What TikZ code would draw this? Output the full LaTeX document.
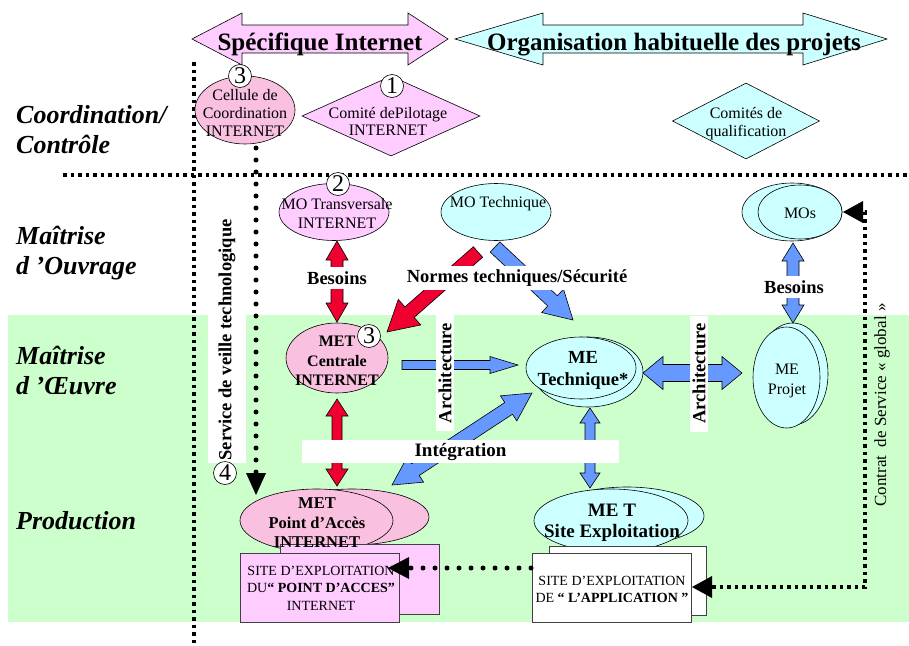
\documentclass[tikz,border=0pt]{standalone}
\usepackage{fontspec}
\setmainfont{Liberation Serif}
\usetikzlibrary{calc,shapes.geometric,arrows.meta}

\definecolor{mauve}{HTML}{FFCCFF}
\definecolor{rose}{HTML}{F9C0E0}
\definecolor{ciel}{HTML}{CCFFFF}
\definecolor{vert}{HTML}{CCFFCC}
\definecolor{rouge}{HTML}{F00030}
\definecolor{bleu}{HTML}{6699FF}

% block arrow from #1 to #2: shaft half-width #3, head half-width #4, head length #5, fill #6
\newcommand\fatarrow[6]{%
  \coordinate (fah) at ($(#2)!#5!(#1)$);
  \filldraw[fill=#6, draw=black, line width=0.6pt]
    ($(#1)!#3!90:(#2)$) -- ($(fah)!#3!90:(#2)$) -- ($(fah)!#4!90:(#2)$) -- (#2)
    -- ($(fah)!#4!-90:(#2)$) -- ($(fah)!#3!-90:(#2)$) -- ($(#1)!#3!-90:(#2)$) -- cycle;}
% block arrow with a head at both ends
\newcommand\fatdarrow[6]{%
  \coordinate (fah) at ($(#2)!#5!(#1)$);
  \coordinate (fat) at ($(#1)!#5!(#2)$);
  \filldraw[fill=#6, draw=black, line width=0.6pt]
    (#1) -- ($(fat)!#4!90:(#2)$) -- ($(fat)!#3!90:(#2)$) -- ($(fah)!#3!90:(#2)$)
    -- ($(fah)!#4!90:(#2)$) -- (#2) -- ($(fah)!#4!-90:(#2)$) -- ($(fah)!#3!-90:(#2)$)
    -- ($(fat)!#3!-90:(#2)$) -- ($(fat)!#4!-90:(#2)$) -- cycle;}

\begin{document}
\begin{tikzpicture}[x=1pt,y=-1pt,
  txt/.style={font=\fontsize{16}{18}\selectfont, align=center, inner sep=0pt},
  btxt/.style={font=\bfseries\fontsize{18.5}{21}\selectfont, align=center, inner sep=0pt},
  side/.style={font=\bfseries\itshape\fontsize{26}{30}\selectfont, inner sep=0pt, anchor=base west},
  title/.style={font=\bfseries\fontsize{25}{25}\selectfont, inner sep=0pt, anchor=base},
  blob/.style={ellipse, draw, line width=0.6pt, inner sep=0pt},
  losange/.style={diamond, draw, line width=0.6pt, inner sep=0pt},
  sitebox/.style={draw=black!75, line width=0.8pt},
  num/.style={circle, draw, fill=white, line width=0.6pt, inner sep=0pt, minimum size=23pt, font=\fontsize{24}{24}\selectfont},
  sqdots/.style={line width=3.5pt, dash pattern=on 3.5pt off 4pt},
  rddots/.style={line width=5pt, line cap=round, dash pattern=on 0pt off 12pt},
  tag/.style={fill=white, inner xsep=2pt, inner ysep=4pt},
  vtag/.style={btxt, fill=white, rotate=90, inner xsep=8pt, inner ysep=2.5pt}
]
\useasboundingbox (0,0) rectangle (909,645);

% bands
\fill[vert] (8,315) rectangle (909,622);
\draw[sqdots] (63,175) -- (909,175);
\draw[sqdots] (194,62) -- (194,645);

% row labels
\node[side] (l1) at (16,123) {Coordination/};
\node[side] (l2) at (16,153) {Contrôle};
\node[side] (l3) at (16,244) {Maîtrise};
\node[side] (l4) at (16,274) {d ’Ouvrage};
\node[side] (l5) at (16,364) {Maîtrise};
\node[side] (l6) at (16,394) {d ’Œuvre};
\node[side] (l7) at (16,529) {Production};

% column headers
\filldraw[fill=mauve, line width=0.6pt] (192,39) -- (242,13) -- (242,25) -- (408,25) -- (408,13)
  -- (448,39) -- (408,65) -- (408,53) -- (242,53) -- (242,65) -- cycle;
\node[title] (specif) at (320,50) {Spécifique Internet};
\filldraw[fill=ciel, line width=0.6pt] (455,39) -- (543,13) -- (543,25) -- (803,25) -- (803,13)
  -- (887,39) -- (803,65) -- (803,53) -- (543,53) -- (543,65) -- cycle;
\node[title] (orga) at (674,50) {Organisation habituelle des projets};

% coordination / control
\node[blob, fill=rose, minimum width=100pt, minimum height=68pt] (cell) at (245,110) {};
\node[txt] (cellT) at (245,113) {Cellule de\\Coordination\\INTERNET};
\node[losange, fill=mauve, minimum width=178pt, minimum height=80pt] (copil) at (391,116) {};
\node[txt, font=\fontsize{16}{17}\selectfont] (copilT) at (388,121) {Comité dePilotage\\INTERNET};
\node[losange, fill=ciel, minimum width=147pt, minimum height=76pt] (qualif) at (746,121) {};
\node[txt] (qualifT) at (746,124) {Comités de\\qualification};

% maitrise d'ouvrage
\node[blob, fill=mauve, minimum width=110pt, minimum height=57pt] (moTr) at (334,212) {};
\node[txt, font=\fontsize{16}{19}\selectfont] (moTrT) at (337,213) {MO Transversale\\INTERNET};
\node[blob, fill=ciel, minimum width=110pt, minimum height=57pt] (moTe) at (496,212) {};
\node[txt] (moTeT) at (498,204) {MO Technique};
\node[blob, fill=ciel, minimum width=100pt, minimum height=58pt] (mosB) at (792,212) {};
\node[blob, fill=ciel, minimum width=84pt, minimum height=54pt] (mos) at (800,212) {};
\node[txt] (mosT) at (800,213) {MOs};

% maitrise d'oeuvre
\node[blob, fill=rose, minimum width=102pt, minimum height=70pt] (metC) at (337,358) {};
\node[txt, font=\bfseries\fontsize{16}{19.5}\selectfont] (metCT) at (337,361) {MET\\Centrale\\INTERNET};
\node[blob, fill=ciel, minimum width=110pt, minimum height=70pt] (meTB) at (588,372) {};
\node[blob, fill=ciel, minimum width=110pt, minimum height=62pt] (meT) at (581,368) {};
\node[btxt, font=\bfseries\fontsize{18.5}{22}\selectfont] (meTT) at (583,370) {ME\\Technique*};
\node[blob, fill=ciel, minimum width=71pt, minimum height=102pt] (mePB) at (792.5,374) {};
\node[blob, fill=ciel, minimum width=67pt, minimum height=101pt] (meP) at (786.5,377.5) {};
\node[txt, font=\fontsize{16}{20}\selectfont] (mePT) at (787,381) {ME\\Projet};

% production
\node[blob, fill=rose, minimum width=154pt, minimum height=56pt] (paB) at (352,517) {};
\node[blob, fill=rose, minimum width=153pt, minimum height=63pt] (pa) at (316.5,520.5) {};
\node[sitebox, fill=mauve, minimum width=159pt, minimum height=70pt, inner sep=0pt] (sitePB) at (359.5,579) {};
\node[sitebox, fill=mauve, minimum width=159pt, minimum height=69pt, inner sep=0pt] (siteP) at (319.5,587.5) {};
\node[txt, font=\bfseries\fontsize{16.5}{19.5}\selectfont] (paT) at (317,523) {MET\\Point d’Accès\\INTERNET};
\node[txt, font=\fontsize{14}{17.5}\selectfont] (sitePT) at (321,588) {SITE D’EXPLOITATION\\DU\textbf{“ POINT D’ACCES”}\\INTERNET};

\node[blob, fill=ciel, minimum width=154pt, minimum height=58pt] (seB) at (627,516) {};
\node[blob, fill=ciel, minimum width=154pt, minimum height=63pt] (se) at (611,520.5) {};
\node[sitebox, fill=white, minimum width=157pt, minimum height=69pt, inner sep=0pt] (siteAB) at (627.5,580.5) {};
\node[sitebox, fill=white, minimum width=159pt, minimum height=69pt, inner sep=0pt] (siteA) at (611.5,587.5) {};
\node[btxt, font=\bfseries\fontsize{19}{21}\selectfont] (seT) at (612,523) {ME T\\Site Exploitation};
\node[txt, font=\fontsize{14}{17}\selectfont] (siteAT) at (612,589) {SITE D’EXPLOITATION\\DE \textbf{“ L’APPLICATION ”}};

% arrow ends
\coordinate (bes1) at (337,241);   \coordinate (bes2) at (337,322);
\coordinate (nr1) at (478,252);    \coordinate (nr2) at (387,332);
\coordinate (nb1) at (495,247);    \coordinate (nb2) at (573,320);
\coordinate (ar1) at (402,365);    \coordinate (ar2) at (518,365);
\coordinate (ad1) at (643,373);    \coordinate (ad2) at (742,373);
\coordinate (bs1) at (793,243);    \coordinate (bs2) at (793,323);
\coordinate (rv1) at (337,399);    \coordinate (rv2) at (337,486);
\coordinate (bv1) at (590,408);    \coordinate (bv2) at (590,488);
\coordinate (in1) at (392,485);    \coordinate (in2) at (532,393);

\fatdarrow{bes1}{bes2}{6pt}{11pt}{19pt}{rouge}
\fatarrow{nr1}{nr2}{7pt}{17pt}{30pt}{rouge}
\fatarrow{nb1}{nb2}{7pt}{16pt}{28pt}{bleu}
\fatarrow{ar1}{ar2}{4.5pt}{8.5pt}{28pt}{bleu}
\fatdarrow{ad1}{ad2}{8.5pt}{16.5pt}{20pt}{bleu}
\fatdarrow{bs1}{bs2}{6pt}{11pt}{18pt}{bleu}
\fatdarrow{rv1}{rv2}{5pt}{11pt}{17pt}{rouge}
\fatdarrow{bv1}{bv2}{5pt}{10pt}{15pt}{bleu}
\fatdarrow{in1}{in2}{7pt}{15pt}{28pt}{bleu}

% arrow labels
\node[btxt, tag] (besL) at (337,278) {Besoins};
\node[btxt, tag] (normL) at (517,278) {Normes techniques/Sécurité};
\node[btxt, tag] (besR) at (794,287) {Besoins};
\node[vtag] (archL) at (445,373) {Architecture};
\node[vtag] (archR) at (699,373.5) {Architecture};
\node[fill=white, minimum width=317pt, minimum height=23pt, inner sep=0pt,
      font=\bfseries\fontsize{19}{19}\selectfont] (integ) at (460.5,451.5) {Intégration};
\node[btxt, fill=white, rotate=90, inner xsep=3pt, inner ysep=11pt] (veille) at (227,340) {Service de veille technologique};
\node[font=\fontsize{17}{17}\selectfont, rotate=90, inner sep=0pt] (contrat) at (882,405) {Contrat\ \ de Service « global »};

% dotted links
\coordinate (vTop) at (256,148);  \coordinate (vEnd) at (256,495);
\draw[rddots, -{Triangle[length=22pt, width=20pt, line width=0pt]}] (vTop) -- (vEnd);
\coordinate (sA) at (531,568);    \coordinate (sP) at (388,568);
\draw[rddots, -{Triangle[length=21pt, width=22pt, line width=0pt]}] (sA) -- (sP);
\coordinate (appE) at (692,587);  \coordinate (mosE) at (843,212);
\draw[sqdots, {Triangle[length=20pt, width=22pt, line width=0pt]}-{Triangle[length=20pt, width=22pt, line width=0pt]}]
  (appE) -- (865,587) -- (865,212) -- (mosE);

% step numbers
\node[num] (n3a) at (240,76) {3};
\node[num] (n1) at (392,86) {1};
\node[num] (n2) at (338,184) {2};
\node[num] (n3b) at (369,336) {3};
\node[num] (n4) at (225,473) {4};
\end{tikzpicture}
\end{document}
